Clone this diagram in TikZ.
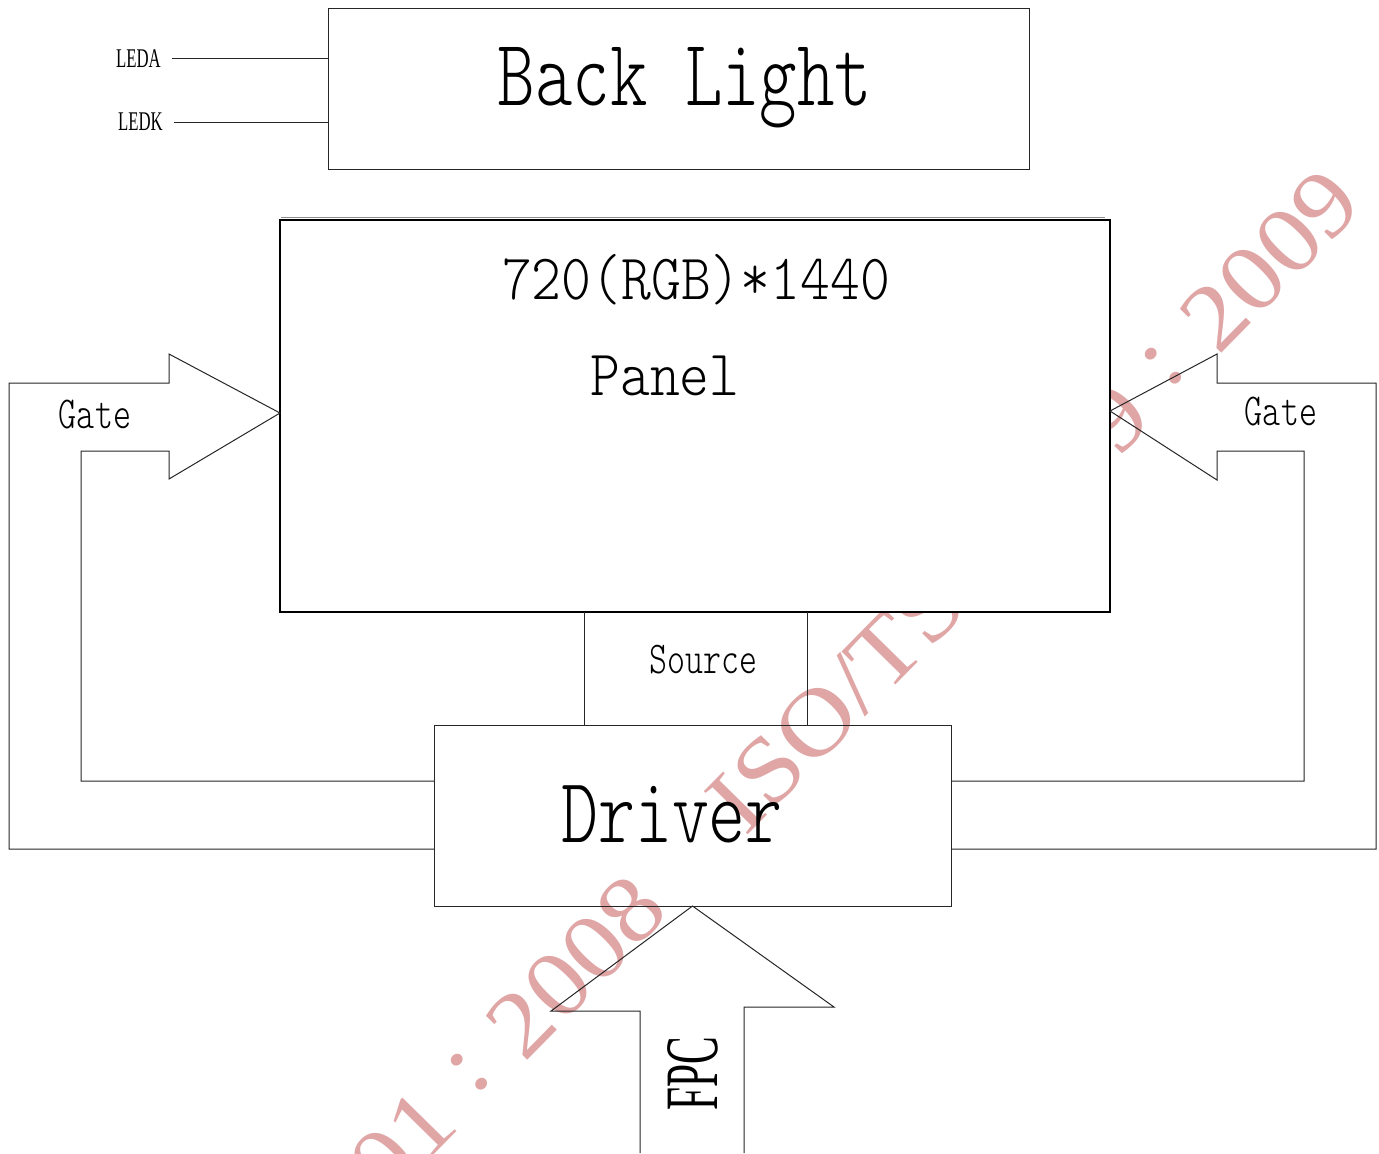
\documentclass[tikz,border=0pt]{standalone}
\usepackage{fontspec}
\usepackage{graphicx}
\usetikzlibrary{fit}
\newfontfamily\tmsfont{Liberation Serif}
\newfontfamily\lmmono{lmmonolt10-regular.otf}
\definecolor{wmpink}{RGB}{224,166,166}
\newcommand\monotxt[3]{{\fontsize{#1}{#1}\selectfont\lmmono\scalebox{1}[#2]{#3}}}
\newcommand\narrowtxt[3]{{\fontsize{#1}{#1}\selectfont\tmsfont\scalebox{#2}[1]{#3}}}
\newcommand\fwcolon{\makebox[0.85em]{\raisebox{0.12em}{:}}}
\begin{document}
\begin{tikzpicture}[x=0.5pt,y=-0.5pt,
  thinline/.style={line width=0.5pt, draw=black!85},
  box/.style={draw=black!85, line width=0.5pt, inner sep=0pt, outer sep=0pt},
  lbl/.style={inner sep=0pt, outer sep=0pt, anchor=base}]
\useasboundingbox[fill=white] (0,0) rectangle (1379,1153);

% watermark
\node[rotate=45.5, lbl, text=wmpink] (wm) at (598,988)
  {\fontsize{47}{47}\selectfont\tmsfont\scalebox{1.12}[1]{\llap{ISO9001\fwcolon20}\rlap{08\hspace{1em}ISO/TS16949\fwcolon2009}}};

% boxes
\node[box, fit={(328,8)(1029,169)}] (bl) {};
\node[box, line width=1pt, draw=black, fill=white, fit={(280,220)(1110,612)}] (panel) {};
\draw[line width=0.5pt, black!45] (281,217.5) -- (1105,217.5);
\node[box, fit={(434,725)(951,906)}] (drv) {};

% texts
\node[lbl] (tbl) at (685,105) {\monotxt{35.7}{1.33}{Back Light}};
\node[lbl] (tres) at (696,299) {\monotxt{28.4}{1.14}{720(RGB)*1440}};
\node[lbl] (tpan) at (665,395) {\monotxt{28.4}{1.14}{Panel}};
\node[lbl] (gl) at (95,428) {\monotxt{17.2}{1.33}{Gate}};
\node[lbl] (gr) at (1281,425) {\monotxt{17.2}{1.33}{Gate}};
\node[lbl] (src) at (703.5,673) {\monotxt{17.1}{1.33}{Source}};
\node[lbl] (tdrv) at (672,842) {\monotxt{35.2}{1.32}{Driver}};
\node[lbl] (leda) at (138.5,67) {\narrowtxt{13.5}{0.62}{LEDA}};
\node[lbl] (ledk) at (140.5,130) {\narrowtxt{13.5}{0.62}{LEDK}};
\node[lbl, rotate=90] (fpc) at (717,1073.5) {\narrowtxt{37.7}{0.55}{FPC}};

% LED lines
\coordinate (la) at (172,58);
\coordinate (lk) at (174,122);
\draw[thinline] (la) -- (la -| bl.west);
\draw[thinline] (lk) -- (lk -| bl.west);

% source lines
\coordinate (s1) at (584,0);
\coordinate (s2) at (807,0);
\draw[thinline] (panel.south -| s1) -- (drv.north -| s1);
\draw[thinline] (panel.south -| s2) -- (drv.north -| s2);

% left gate arrow
\draw[thinline, line join=miter] (434,849) -- (9,849) -- (9,383) -- (169,383) -- (169,354)
  -- (280,413) -- (169,479) -- (169,451) -- (81,451) -- (81,781) -- (434,781);
% right gate arrow
\draw[thinline, line join=miter] (951,849) -- (1376,849) -- (1376,383) -- (1217,383) -- (1217,354)
  -- (1110,411) -- (1217,480) -- (1217,451) -- (1304,451) -- (1304,781) -- (951,781);
% FPC arrow
\draw[thinline, line join=miter] (640,1153) -- (640,1011) -- (551,1011) -- (drv.south)
  -- (834,1007) -- (744,1007) -- (744,1153);
\end{tikzpicture}
\end{document}
